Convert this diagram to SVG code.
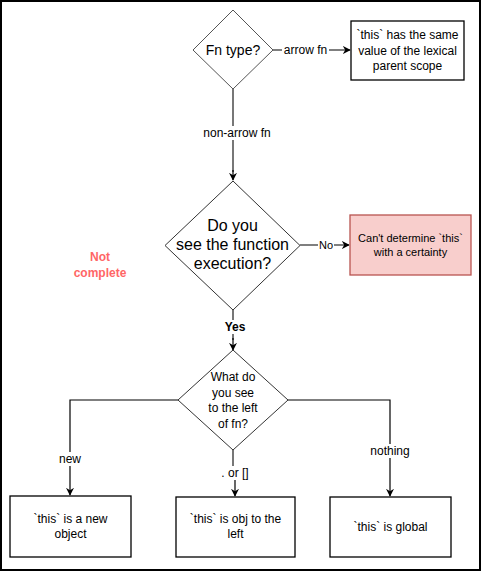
<svg xmlns="http://www.w3.org/2000/svg" width="482" height="572" viewBox="0 0 482 572">
<style>
text{font-family:"Liberation Sans",Arial,sans-serif;fill:#000;text-anchor:middle;dominant-baseline:central}
.d{fill:#fff;stroke:#555;stroke-width:1}
.b{fill:#fff;stroke:#000;stroke-width:1.3}
.l{fill:none;stroke:#000;stroke-width:1.2}
.g{fill:none;stroke:#777;stroke-width:2}
.lbl{font-size:12px}
.bg{fill:#fff}
</style>
<defs>
<marker id="a" viewBox="0 0 10 10" refX="9" refY="5" markerWidth="8" markerHeight="8" markerUnits="userSpaceOnUse" orient="auto">
<path d="M0,0 L10,5 L0,10 L3,5 Z" fill="#000"/>
</marker>
</defs>
<rect x="1" y="1" width="479" height="569" fill="#fff" stroke="#000" stroke-width="2"/>
<g id="connectors">
<line class="l" x1="273" y1="50" x2="350" y2="50" marker-end="url(#a)"/>
<rect class="bg" x="282" y="43" width="47" height="14"/>
<text class="lbl" x="305.5" y="50">arrow fn</text>
<line class="g" x1="233" y1="89" x2="233" y2="172"/>
<line class="l" x1="233" y1="170" x2="233" y2="180" marker-end="url(#a)"/>
<rect class="bg" x="200" y="126" width="74" height="14"/>
<text class="lbl" x="237" y="133">non-arrow fn</text>
<line class="l" x1="300" y1="245" x2="349" y2="245" marker-end="url(#a)"/>
<rect class="bg" x="318" y="238" width="16" height="14"/>
<text style="font-size:11px" x="326" y="245">No</text>
<line class="g" x1="233" y1="310" x2="233" y2="340"/>
<line class="l" x1="233" y1="338" x2="233" y2="350" marker-end="url(#a)"/>
<rect class="bg" x="220" y="320" width="28" height="14"/>
<text style="font-size:12px;font-weight:bold" x="235" y="327">Yes</text>
<polyline class="l" points="178,400 70,400 70,495" marker-end="url(#a)"/>
<rect class="bg" x="55" y="452" width="30" height="14"/>
<text class="lbl" x="70" y="459">new</text>
<polyline class="l" points="287,400 390,400 390,496" marker-end="url(#a)"/>
<rect class="bg" x="367" y="444" width="46" height="14"/>
<text class="lbl" x="390" y="451">nothing</text>
<line class="g" x1="233" y1="450" x2="233" y2="466"/>
<line class="l" x1="235" y1="480" x2="235" y2="496" marker-end="url(#a)"/>
<text class="lbl" x="235" y="473">. or []</text>
</g>
<g id="fn-type">
<polygon class="d" points="233,10 273,50 233,89 193,50"/>
<text style="font-size:14px" x="233" y="50">Fn type?</text>
</g>
<g id="lexical">
<rect class="b" x="351" y="21" width="113" height="59"/>
<text style="font-size:12px" x="407.5" y="35">`this` has the same</text>
<text style="font-size:12px" x="407.5" y="50.5">value of the lexical</text>
<text style="font-size:12px" x="407.5" y="66">parent scope</text>
</g>
<g id="see-exec">
<polygon class="d" points="233,181 300,245.5 233,310 165,245.5" style="stroke:#333"/>
<text style="font-size:16px" x="232.5" y="225">Do you</text>
<text style="font-size:16px" x="232.5" y="244">see the function</text>
<text style="font-size:16px" x="232.5" y="263">execution?</text>
</g>
<g id="cant-determine">
<rect x="350" y="215" width="121" height="60" fill="#f8cecc" stroke="#b85450" stroke-width="1.3"/>
<text style="font-size:11px" x="410.5" y="238">Can't determine `this`</text>
<text style="font-size:11px" x="410.5" y="252">with a certainty</text>
</g>
<g id="not-complete">
<text style="font-size:12px;font-weight:bold;fill:#ff6666" x="100" y="257">Not</text>
<text style="font-size:12px;font-weight:bold;fill:#ff6666" x="100" y="273">complete</text>
</g>
<g id="left-of-fn">
<polygon class="d" points="233,350 288,400 233,450 178,400" style="stroke:#333"/>
<text style="font-size:12px" x="233" y="377">What do</text>
<text style="font-size:12px" x="233" y="392.5">you see</text>
<text style="font-size:12px" x="233" y="408">to the left</text>
<text style="font-size:12px" x="233" y="424">of fn?</text>
</g>
<g id="new-object">
<rect class="b" x="10" y="496" width="121" height="61"/>
<text style="font-size:12px" x="70.5" y="519">`this` is a new</text>
<text style="font-size:12px" x="70.5" y="533.5">object</text>
</g>
<g id="obj-left">
<rect class="b" x="176" y="497" width="119" height="60"/>
<text style="font-size:12px" x="235.5" y="519">`this` is obj to the</text>
<text style="font-size:12px" x="235.5" y="533.5">left</text>
</g>
<g id="global">
<rect class="b" x="330" y="497" width="121" height="60"/>
<text style="font-size:12px" x="390.5" y="527">`this` is global</text>
</g>
</svg>
